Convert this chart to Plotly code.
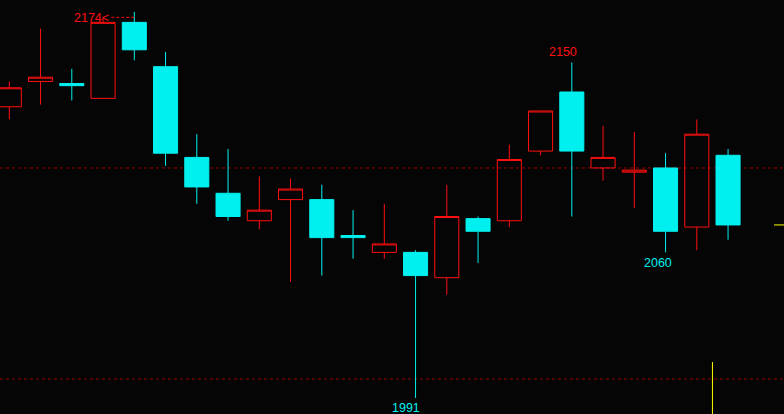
import plotly.graph_objects as go

# ---- data ----
idx = list(range(24))
opens = [2129, 2141, 2140, 2133, 2169, 2148, 2105, 2088, 2075, 2085, 2085, 2068,
         2060, 2060, 2048, 2076, 2075, 2108, 2136, 2100, 2098, 2100, 2072, 2106]
highs = [2141, 2166, 2147, 2171, 2174, 2155, 2116, 2109, 2096, 2095, 2092, 2080,
         2083, 2061, 2092, 2077, 2111, 2127, 2150, 2120, 2117, 2107, 2123, 2109]
lows = [2123, 2130, 2132, 2133, 2151, 2101, 2083, 2075, 2071, 2046, 2049, 2057,
        2057, 1991, 2040, 2055, 2072, 2106, 2077, 2094, 2081, 2060, 2061, 2066]
closes = [2138, 2143, 2139, 2169, 2156, 2107, 2091, 2077, 2080, 2090, 2067, 2067,
          2064, 2049, 2077, 2070, 2104, 2127, 2108, 2105, 2099, 2070, 2116, 2073]

ref_lines = [2100, 2000]          # dashed horizontal levels
marker_x = 22.5                   # yellow vertical marker position
marker_top = 2008                 # yellow vertical marker top price

RED = "#ff1010"
CYAN = "#00f0f0"
BG = "#050505"

fig = go.Figure()
fig.add_trace(go.Candlestick(
    x=idx, open=opens, high=highs, low=lows, close=closes,
    increasing=dict(line=dict(color=RED, width=1), fillcolor="rgba(0,0,0,0)"),
    decreasing=dict(line=dict(color=CYAN, width=1), fillcolor=CYAN),
    whiskerwidth=0, hoverinfo="skip", showlegend=False,
))

shapes = []
for lv in ref_lines:
    shapes.append(dict(type="line", xref="paper", x0=0, x1=1, yref="y", y0=lv, y1=lv,
                       line=dict(color="#9a0000", width=1, dash="3px,3px"), layer="below"))

# yellow vertical marker
shapes.append(dict(type="line", xref="x", x0=marker_x, x1=marker_x, yref="y",
                   y0=marker_top, y1=1900, line=dict(color="#ffff00", width=1)))
# last-price tick on the right edge
shapes.append(dict(type="line", xref="x", x0=len(idx) + 0.47, x1=len(idx) + 2, yref="y",
                   y0=closes[-1], y1=closes[-1], line=dict(color="#ffff00", width=1)))

# max / min labels
hi_i = max(idx, key=lambda i: highs[i])
lo_i = min(idx, key=lambda i: lows[i])
shapes.append(dict(type="line", xref="x", xsizemode="pixel", xanchor=hi_i, x0=-23, x1=0,
                   yref="y", ysizemode="pixel", yanchor=highs[hi_i], y0=-5.5, y1=-5.5,
                   line=dict(color=RED, width=1, dash="3px,2px")))

FONT = "Liberation Sans, Arial, sans-serif"
ann = [
    dict(x=hi_i, y=highs[hi_i], text=f"{highs[hi_i]}<", xanchor="right", yanchor="middle",
         xshift=-23, yshift=-6, font=dict(color=RED, size=12.5, family=FONT), showarrow=False),
    dict(x=18, y=highs[18], text=f"{highs[18]}", xanchor="center", yanchor="bottom",
         xshift=-9, yshift=1, font=dict(color=RED, size=12.5, family=FONT), showarrow=False),
    dict(x=21, y=lows[21], text=f"{lows[21]}", xanchor="center", yanchor="top",
         xshift=-8, yshift=-2, font=dict(color=CYAN, size=12.5, family=FONT), showarrow=False),
    dict(x=lo_i, y=lows[lo_i], text=f"{lows[lo_i]}", xanchor="center", yanchor="top",
         xshift=-9.5, yshift=-1, font=dict(color=CYAN, size=12.5, family=FONT), showarrow=False),
]

fig.update_layout(
    width=784, height=414,
    margin=dict(l=0, r=0, t=0, b=0),
    paper_bgcolor=BG, plot_bgcolor=BG,
    boxgap=0.23, boxgroupgap=0,
    xaxis=dict(visible=False, range=[-0.298, 24.79], rangeslider=dict(visible=False),
               fixedrange=True),
    yaxis=dict(visible=False, range=[1983.4, 2179.6], fixedrange=True),
    shapes=shapes, annotations=ann,
)

fig.write_html(
    "out.html",
    config={"displayModeBar": False},
    post_script="document.body.style.margin='0';document.body.style.overflow='hidden';"
                "document.body.style.background='#050505';",
)
